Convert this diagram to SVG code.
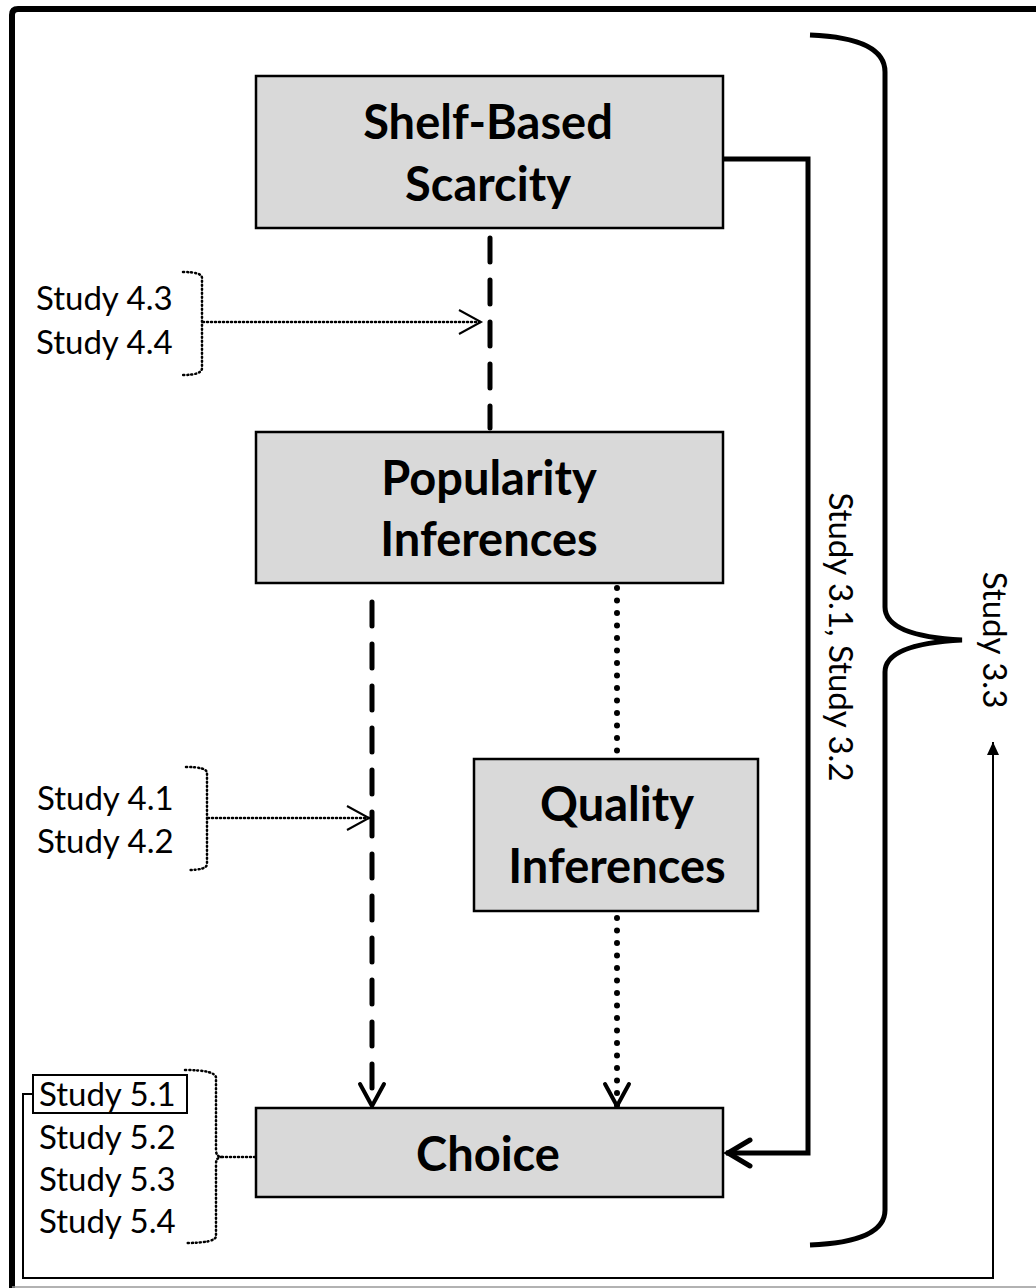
<svg xmlns="http://www.w3.org/2000/svg" width="1036" height="1288" viewBox="0 0 1036 1288">
<style>
.box{fill:#d9d9d9;stroke:#000;stroke-width:2.5}
.title{font-family:"Lato","Open Sans",sans-serif;font-weight:bold;font-size:47px;fill:#000;text-anchor:middle}
.lab{font-family:"Lato","Open Sans",sans-serif;font-size:33px;fill:#000}
.dash{fill:none;stroke:#000;stroke-width:5;stroke-dasharray:24 18;stroke-linecap:round}
.dot{fill:none;stroke:#000;stroke-width:6;stroke-dasharray:0 12.5;stroke-linecap:round}
.fine{fill:none;stroke:#000;stroke-width:2.5;stroke-dasharray:1 3;stroke-linecap:round}
.solid{fill:none;stroke:#000;stroke-width:5}
.thin{fill:none;stroke:#000;stroke-width:2}
</style>
<defs>
<marker id="vThick" markerUnits="userSpaceOnUse" orient="auto" refX="0" refY="0" overflow="visible" markerWidth="30" markerHeight="30">
<path d="M-22,-12 L0,0 L-22,12" fill="none" stroke="#000" stroke-width="4" stroke-linecap="round" stroke-linejoin="miter"/>
</marker>
<marker id="vHeavy" markerUnits="userSpaceOnUse" orient="auto" refX="0" refY="0" overflow="visible" markerWidth="30" markerHeight="30">
<path d="M-24,-13 L-2,0 L-24,13" fill="none" stroke="#000" stroke-width="5" stroke-linecap="round"/>
</marker>
<marker id="vThin" markerUnits="userSpaceOnUse" orient="auto" refX="0" refY="0" overflow="visible" markerWidth="30" markerHeight="30">
<path d="M-22,-12 L0,0 L-22,12" fill="none" stroke="#000" stroke-width="2"/>
</marker>
<marker id="tri" markerUnits="userSpaceOnUse" orient="auto" refX="0" refY="0" overflow="visible" markerWidth="20" markerHeight="20">
<path d="M-13,-6 L0,0 L-13,6 Z" fill="#000"/>
</marker>
</defs>
<g id="frame">
<path d="M12,1288 L12,15 Q12,9 18,9 L1036,9" fill="none" stroke="#000" stroke-width="6"/>
<line x1="12" y1="1287" x2="1036" y2="1287" stroke="#999" stroke-width="1.5"/>
</g>
<g id="connectors">
<line class="dash" x1="490" y1="238" x2="490" y2="428"/>
<line class="dash" x1="372" y1="602" x2="372" y2="1106" marker-end="url(#vThick)"/>
<line class="dot" x1="617" y1="588" x2="617" y2="752"/>
<line class="dot" x1="617" y1="918" x2="617" y2="1106" marker-end="url(#vThick)"/>
<path class="solid" d="M723,159 L808,159 L808,1153 L726,1153" marker-end="url(#vHeavy)"/>
<path class="fine" d="M183,272 Q202,272 202,278 L202,368 Q202,375 183,375"/>
<path class="fine" d="M203,322 L481,322" marker-end="url(#vThin)"/>
<path class="fine" d="M186,767 Q207,767 207,773 L207,864 Q207,870 188,870"/>
<path class="fine" d="M208,818 L369,818" marker-end="url(#vThin)"/>
<path class="fine" d="M185,1070 Q216,1070 216,1078 L216,1150 Q216,1157 222,1157 L255,1157 M222,1157 Q216,1157 216,1164 L216,1236 Q216,1243 185,1243"/>
<path class="thin" d="M33,1094 L23,1094 L23,1278 L993,1278 L993,742" marker-end="url(#tri)"/>
<path d="M810,35 Q885,38 885,72 L885,607 Q885,636 962,640 Q885,644 885,672 L885,1210 Q885,1242 810,1245" fill="none" stroke="#000" stroke-width="5"/>
</g>
<g id="shelf">
<rect class="box" x="256" y="76" width="467" height="152"/>
<text class="title" x="488" y="139">Shelf-Based</text>
<text class="title" x="488" y="201">Scarcity</text>
</g>
<g id="popularity">
<rect class="box" x="256" y="432" width="467" height="151"/>
<text class="title" x="489" y="495">Popularity</text>
<text class="title" x="489" y="556">Inferences</text>
</g>
<g id="quality">
<rect class="box" x="474" y="759" width="284" height="152"/>
<text class="title" x="617" y="821">Quality</text>
<text class="title" x="617" y="883">Inferences</text>
</g>
<g id="choice">
<rect class="box" x="256" y="1108" width="467" height="89"/>
<text class="title" x="488" y="1171">Choice</text>
</g>
<g id="studies4a">
<text class="lab" x="36" y="310">Study 4.3</text>
<text class="lab" x="36" y="354">Study 4.4</text>
</g>
<g id="studies4b">
<text class="lab" x="37" y="810">Study 4.1</text>
<text class="lab" x="37" y="853">Study 4.2</text>
</g>
<g id="studies5">
<rect x="33" y="1075" width="154" height="38" fill="#fff" stroke="#000" stroke-width="2"/>
<text class="lab" x="39" y="1106">Study 5.1</text>
<text class="lab" x="39" y="1149">Study 5.2</text>
<text class="lab" x="39" y="1191">Study 5.3</text>
<text class="lab" x="39" y="1233">Study 5.4</text>
</g>
<g id="study31">
<text class="lab" text-anchor="middle" transform="translate(829,637) rotate(90)">Study 3.1, Study 3.2</text>
</g>
<g id="study33">
<text class="lab" text-anchor="middle" transform="translate(983,640) rotate(90)">Study 3.3</text>
</g>
</svg>
